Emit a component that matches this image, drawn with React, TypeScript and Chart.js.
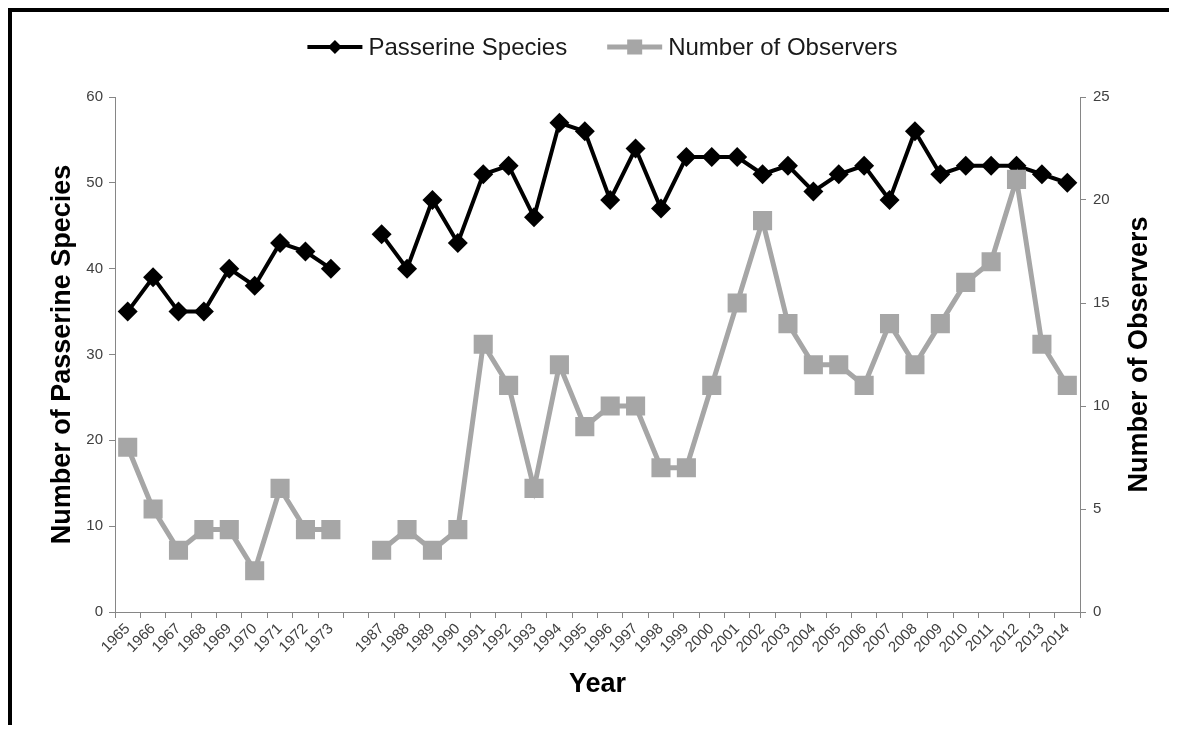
import React, { useEffect, useRef } from "react";
import { Chart, registerables } from "chart.js";

Chart.register(...registerables);

const years = [
  "1965", "1966", "1967", "1968", "1969", "1970", "1971", "1972", "1973", "",
  "1987", "1988", "1989", "1990", "1991", "1992", "1993", "1994", "1995", "1996",
  "1997", "1998", "1999", "2000", "2001", "2002", "2003", "2004", "2005", "2006",
  "2007", "2008", "2009", "2010", "2011", "2012", "2013", "2014",
];

const passerineSpecies = [
  35, 39, 35, 35, 40, 38, 43, 42, 40, null,
  44, 40, 48, 43, 51, 52, 46, 57, 56, 48,
  54, 47, 53, 53, 53, 51, 52, 49, 51, 52,
  48, 56, 51, 52, 52, 52, 51, 50,
];

const numberOfObservers = [
  8, 5, 3, 4, 4, 2, 6, 4, 4, null,
  3, 4, 3, 4, 13, 11, 6, 12, 9, 10,
  10, 7, 7, 11, 15, 19, 14, 12, 12, 11,
  14, 12, 14, 16, 17, 21, 13, 11,
];

const seriesNames = ["Passerine Species", "Number of Observers"];
const leftTitle = "Number of Passerine Species";
const rightTitle = "Number of Observers";
const xTitle = "Year";

const FONT = "'Liberation Sans', Arial, sans-serif";
const BLACK = "#000000";
const GREY = "#a6a6a6";
const AXIS = "#868686";
const TICK_TEXT = "#404040";

const legendPlugin = {
  id: "lineMarkerLegend",
  afterDraw(chart: any) {
    const ctx = chart.ctx;
    const fontSize = 24;
    const lineLen = 55;
    const gap = 6;
    const itemGap = 40;
    ctx.save();
    ctx.font = `${fontSize}px ${FONT}`;
    ctx.textBaseline = "middle";
    ctx.textAlign = "left";
    const items = chart.data.datasets.map((ds: any) => ({
      text: ds.label,
      color: ds.borderColor,
      width: ds.borderWidth,
      style: ds.pointStyle,
      w: lineLen + gap + ctx.measureText(ds.label).width,
    }));
    const total = items.reduce((s: number, it: any) => s + it.w, 0) + itemGap * (items.length - 1);
    let x = chart.width / 2 - total / 2 + 10;
    const y = 35;
    items.forEach((it: any) => {
      ctx.strokeStyle = it.color;
      ctx.lineWidth = it.width;
      ctx.beginPath();
      ctx.moveTo(x, y);
      ctx.lineTo(x + lineLen, y);
      ctx.stroke();
      ctx.fillStyle = it.color;
      const cx = x + lineLen / 2;
      if (it.style === "rectRot") {
        const r = 7;
        ctx.beginPath();
        ctx.moveTo(cx - r, y);
        ctx.lineTo(cx, y - r);
        ctx.lineTo(cx + r, y);
        ctx.lineTo(cx, y + r);
        ctx.closePath();
        ctx.fill();
      } else {
        const s = 15;
        ctx.fillRect(cx - s / 2, y - s / 2, s, s);
      }
      ctx.fillStyle = "#1a1a1a";
      ctx.fillText(it.text, x + lineLen + gap, y + 1);
      x += it.w + itemGap;
    });
    ctx.restore();
  },
};

const rightTitlePlugin = {
  id: "rightTitle",
  afterDraw(chart: any) {
    const ctx = chart.ctx;
    const a = chart.chartArea;
    ctx.save();
    ctx.translate(a.right + 60, (a.top + a.bottom) / 2);
    ctx.rotate(-Math.PI / 2);
    ctx.font = `bold 27px ${FONT}`;
    ctx.fillStyle = BLACK;
    ctx.textAlign = "center";
    ctx.textBaseline = "middle";
    ctx.fillText(rightTitle, 0, 0);
    ctx.restore();
  },
};

export default function App() {
  const canvasRef = useRef<HTMLCanvasElement | null>(null);

  useEffect(() => {
    if (!canvasRef.current) return;
    const chart = new Chart(canvasRef.current, {
      type: "line",
      data: {
        labels: years,
        datasets: [
          {
            label: seriesNames[0],
            data: passerineSpecies,
            yAxisID: "y",
            borderColor: BLACK,
            backgroundColor: BLACK,
            borderWidth: 4,
            pointStyle: "rectRot",
            pointRadius: 10,
            pointBorderWidth: 0,
            pointBackgroundColor: BLACK,
            spanGaps: false,
            tension: 0,
            order: 1,
          },
          {
            label: seriesNames[1],
            data: numberOfObservers,
            yAxisID: "y1",
            borderColor: GREY,
            backgroundColor: GREY,
            borderWidth: 5,
            pointStyle: "rect",
            pointRadius: 13.5,
            pointBorderWidth: 0,
            pointBackgroundColor: GREY,
            spanGaps: false,
            tension: 0,
            order: 0,
          },
        ],
      },
      options: {
        animation: false,
        responsive: true,
        maintainAspectRatio: false,
        layout: { padding: { top: 85, left: 0, right: 0, bottom: 0 } },
        plugins: {
          legend: { display: false },
          tooltip: { enabled: false },
        },
        scales: {
          x: {
            type: "category",
            offset: true,
            grid: {
              offset: true,
              drawOnChartArea: false,
              drawTicks: true,
              tickLength: 6,
              color: AXIS,
            },
            border: { display: true, color: AXIS, width: 1 },
            ticks: {
              autoSkip: false,
              minRotation: 45,
              maxRotation: 45,
              padding: 2,
              color: TICK_TEXT,
              font: { family: FONT, size: 15 },
            },
            title: {
              display: true,
              text: xTitle,
              color: BLACK,
              font: { family: FONT, size: 27, weight: "bold" },
              padding: { top: 0, bottom: 24 },
            },
            afterFit(scale: any) {
              scale.height = 113;
            },
          },
          y: {
            position: "left",
            min: 0,
            max: 60,
            ticks: {
              stepSize: 10,
              padding: 6,
              color: TICK_TEXT,
              font: { family: FONT, size: 15 },
            },
            grid: {
              drawOnChartArea: false,
              drawTicks: true,
              tickLength: 6,
              color: AXIS,
            },
            border: { display: true, color: AXIS, width: 1 },
            title: {
              display: true,
              text: leftTitle,
              color: BLACK,
              font: { family: FONT, size: 27, weight: "bold" },
              padding: { top: 34, bottom: 0 },
            },
            afterFit(scale: any) {
              scale.width = 103;
            },
          },
          y1: {
            position: "right",
            min: 0,
            max: 25,
            ticks: {
              stepSize: 5,
              padding: 7,
              color: TICK_TEXT,
              font: { family: FONT, size: 15 },
            },
            grid: {
              drawOnChartArea: false,
              drawTicks: true,
              tickLength: 6,
              color: AXIS,
            },
            border: { display: true, color: AXIS, width: 1 },
            afterFit(scale: any) {
              scale.width = 93;
            },
          },
        },
      },
      plugins: [legendPlugin, rightTitlePlugin],
    });
    return () => chart.destroy();
  }, []);

  return (
    <div
      style={{
        width: 1161,
        height: 713,
        borderTop: "4px solid #000",
        borderLeft: "4px solid #000",
      }}
    >
      <div style={{ position: "relative", width: "100%", height: "100%" }}>
        <canvas ref={canvasRef} />
      </div>
    </div>
  );
}
